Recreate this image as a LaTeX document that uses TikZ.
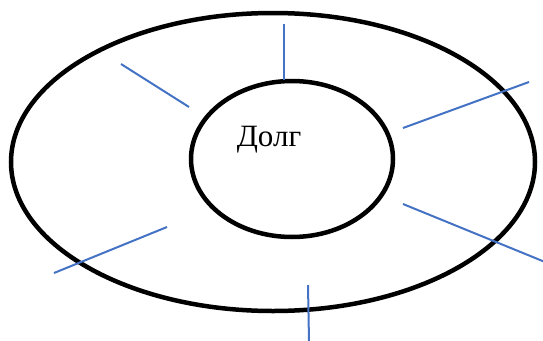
\documentclass[tikz,border=0pt]{standalone}
\usepackage{fontspec}
\setmainfont{Liberation Serif}
\definecolor{spoke}{HTML}{4472C4}
\tikzset{ring/.style={draw=black,line width=4.5pt},
  spokeline/.style={draw=spoke,line width=2pt}}
\begin{document}
\begin{tikzpicture}[x=1pt,y=-1pt]
\useasboundingbox (0,0) rectangle (543,340);
\draw[ring] (273,162) ellipse [x radius=262, y radius=149];
\draw[ring] (292,159) ellipse [x radius=101, y radius=78];
\node[font=\fontsize{31}{36}\selectfont, anchor=base, inner sep=0pt] (t) at (269,146) {Долг};
\coordinate (a1) at (284,24); \coordinate (a2) at (284,80);
\coordinate (b1) at (121,64); \coordinate (b2) at (189,107);
\coordinate (c1) at (403,128); \coordinate (c2) at (529,82);
\coordinate (d1) at (403,204); \coordinate (d2) at (545,262);
\coordinate (e1) at (167,227); \coordinate (e2) at (54,273);
\coordinate (f1) at (308,285); \coordinate (f2) at (309,342);
\draw[spokeline] (a1) -- (a2);
\draw[spokeline] (b1) -- (b2);
\draw[spokeline] (c1) -- (c2);
\draw[spokeline] (d1) -- (d2);
\draw[spokeline] (e1) -- (e2);
\draw[spokeline] (f1) -- (f2);
\end{tikzpicture}
\end{document}
